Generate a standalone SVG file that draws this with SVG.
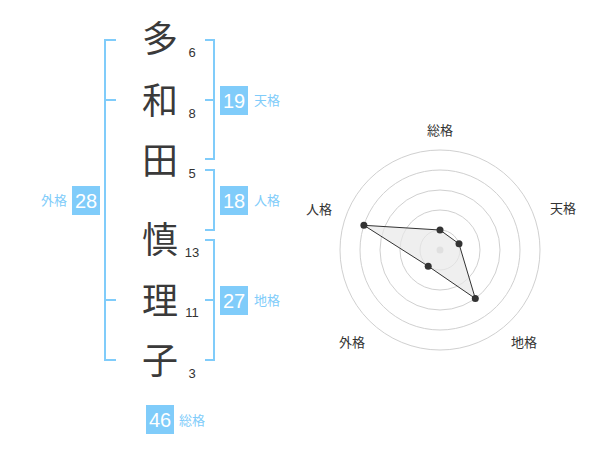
<svg xmlns="http://www.w3.org/2000/svg" width="600" height="470" viewBox="0 0 600 470">
<style>
.kanji{font-family:"Noto Sans CJK JP","Noto Sans CJK SC",sans-serif;font-size:36px;fill:#3a3a3a;text-anchor:middle}
.num{font-family:"Liberation Sans",Arial,sans-serif;font-size:13px;fill:#333;text-anchor:middle}
.br{fill:none;stroke:#80ccfa;stroke-width:2}
.box{fill:#80ccfa}
.bt{font-family:"Liberation Sans",Arial,sans-serif;font-size:20px;fill:#fff;text-anchor:middle}
.bl{font-family:"Noto Sans CJK JP","Noto Sans CJK SC",sans-serif;font-size:13px;fill:#80ccfa}
.rl{font-family:"Noto Sans CJK JP","Noto Sans CJK SC",sans-serif;font-size:13px;fill:#333;text-anchor:middle}
.ring{fill:none;stroke:#d0d0d0;stroke-width:1}
.pt{fill:#333}
</style>
<rect width="600" height="470" fill="#fff"/>
<g id="name">
<text class="kanji" x="160" y="52">多</text>
<text class="kanji" x="160" y="114">和</text>
<text class="kanji" x="160" y="174">田</text>
<text class="kanji" x="160" y="253">慎</text>
<text class="kanji" x="160" y="314">理</text>
<text class="kanji" x="160" y="374">子</text>
<text class="num" x="192" y="57">6</text>
<text class="num" x="192" y="118">8</text>
<text class="num" x="192" y="178">5</text>
<text class="num" x="192" y="257">13</text>
<text class="num" x="192" y="317">11</text>
<text class="num" x="192" y="378">3</text>
</g>
<g id="connectors">
<path class="br" d="M116 40H105V360H116M105 100H116M105 300H116"/>
<path class="br" d="M205 40H214V159H205M205 100H214"/>
<path class="br" d="M205 170H214V230H205"/>
<path class="br" d="M205 240H214V360H205M205 300H214"/>
</g>
<g id="tenkaku">
<rect class="box" x="220" y="86" width="28" height="29"/>
<text class="bt" x="234" y="108">19</text>
<text class="bl" x="254" y="105">天格</text>
</g>
<g id="jinkaku">
<rect class="box" x="220" y="186" width="28" height="29"/>
<text class="bt" x="234" y="208">18</text>
<text class="bl" x="254" y="205">人格</text>
</g>
<g id="chikaku">
<rect class="box" x="220" y="286" width="28" height="29"/>
<text class="bt" x="234" y="308">27</text>
<text class="bl" x="254" y="305">地格</text>
</g>
<g id="gaikaku">
<rect class="box" x="72" y="186" width="28" height="29"/>
<text class="bt" x="86" y="208">28</text>
<text class="bl" x="67" y="205" text-anchor="end">外格</text>
</g>
<g id="soukaku">
<rect class="box" x="146" y="405" width="28" height="29"/>
<text class="bt" x="160" y="427">46</text>
<text class="bl" x="179" y="425">総格</text>
</g>
<g id="radar">
<circle class="ring" cx="440" cy="250" r="20"/>
<circle class="ring" cx="440" cy="250" r="40"/>
<circle class="ring" cx="440" cy="250" r="60"/>
<circle class="ring" cx="440" cy="250" r="80"/>
<circle class="ring" cx="440" cy="250" r="100"/>
<circle cx="440" cy="250" r="3.5" fill="#ccc"/>
<polygon points="440,230 459,243.8 475.3,298.5 428.2,266.2 363.9,225.3" fill="#e8e8e8" fill-opacity="0.7" stroke="#333" stroke-width="1"/>
<circle class="pt" cx="440" cy="230" r="3.5"/>
<circle class="pt" cx="459" cy="243.8" r="3.5"/>
<circle class="pt" cx="475.3" cy="298.5" r="3.5"/>
<circle class="pt" cx="428.2" cy="266.2" r="3.5"/>
<circle class="pt" cx="363.9" cy="225.3" r="3.5"/>
<text class="rl" x="440" y="135">総格</text>
<text class="rl" x="563" y="213">天格</text>
<text class="rl" x="524" y="347">地格</text>
<text class="rl" x="352" y="347">外格</text>
<text class="rl" x="319" y="214">人格</text>
</g>
</svg>
